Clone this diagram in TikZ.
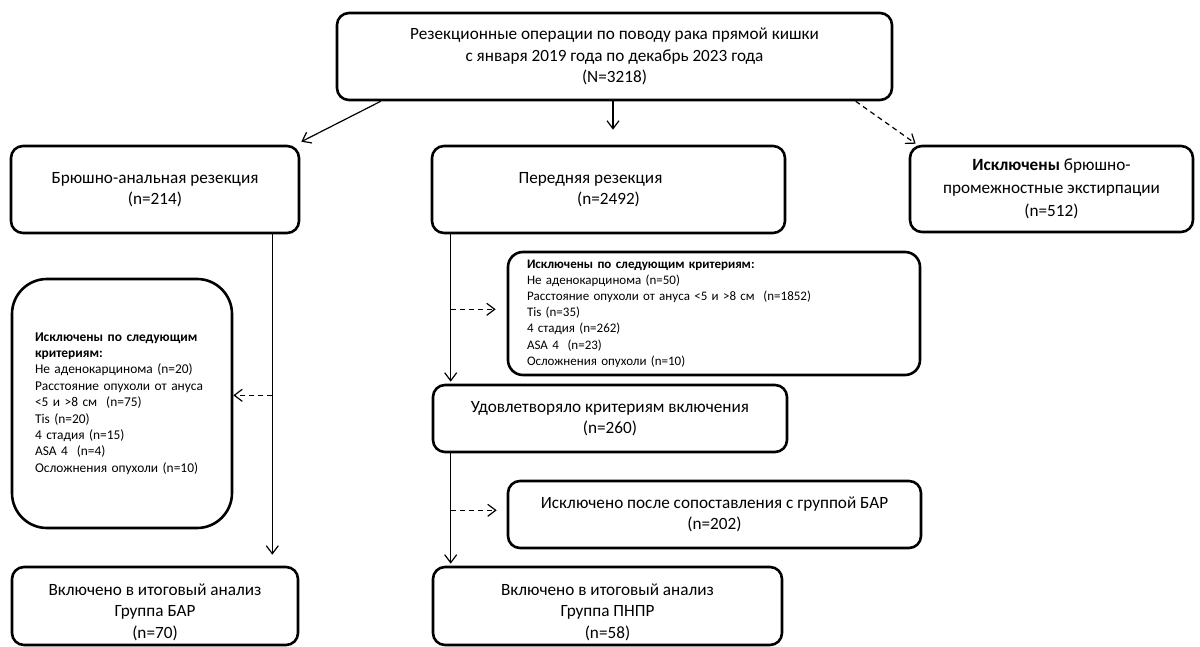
\documentclass[tikz,border=0pt]{standalone}
\usepackage{fontspec}
\setmainfont{Carlito}
\usetikzlibrary{arrows.meta,calc}
\newcommand\bigsz{\fontsize{17.2}{21.2}\selectfont}
\newcommand\smsz{\fontsize{13}{16.2}\selectfont}
\newcommand\smlsz{\fontsize{13.4}{16.4}\selectfont}
\begin{document}
\begin{tikzpicture}[x=1pt,y=1pt,
  box/.style={draw, line width=2.6pt, rounded corners=12pt, align=center, font=\bigsz, inner sep=0pt},
  conn/.style={line width=1.2pt, -{Straight Barb[length=8pt,width=12pt]}},
  dconn/.style={conn, dash pattern=on 5pt off 4pt}]
\useasboundingbox (0,0) rectangle (1200,-647);
% boxes
\node[box, minimum width=555pt, minimum height=87pt] (top) at (614.5,-56.5)
  {Резекционные операции по поводу рака прямой кишки\\с января 2019 года по декабрь 2023 года\\(N=3218)};
\node[box, minimum width=288pt, minimum height=87pt] (bar) at (155,-189.5)
  {Брюшно-анальная резекция\\(n=214)};
\node[box, minimum width=353pt, minimum height=87pt] (ar) at (608.5,-189.5)
  {Передняя резекция\hspace*{36pt}\\(n=2492)};
\node[box, minimum width=283pt, minimum height=86pt, font=\fontsize{17.2}{23}\selectfont] (ex) at (1051.5,-189)
  {\textbf{Исключены} брюшно-\\промежностные экстирпации\\(n=512)};
\node[box, rounded corners=35pt, minimum width=220pt, minimum height=249pt, align=left, font=\smlsz, text width=174pt, inner xsep=23pt] (exL) at (122,-403.5)
  {\textbf{Исключены по следующим}\\\textbf{критериям:}\\Не аденокарцинома (n=20)\\Расстояние опухоли от ануса\\<5 и >8 см\ \ (n=75)\\Tis (n=20)\\4 стадия (n=15)\\ASA 4\ \ (n=4)\\Осложнения опухоли (n=10)};
\node[box, rounded corners=15pt, minimum width=412pt, minimum height=123pt, align=left, font=\smsz, text width=374pt] (exM) at (714,-313.5)
  {\textbf{Исключены по следующим критериям:}\\Не аденокарцинома (n=50)\\Расстояние опухоли от ануса <5 и >8 см\ \ (n=1852)\\Tis (n=35)\\4 стадия (n=262)\\ASA 4\ \ (n=23)\\Осложнения опухоли (n=10)};
\node[box, minimum width=354pt, minimum height=67pt] (ud) at (610,-418.5)
  {Удовлетворяло критериям включения\\(n=260)};
\node[box, minimum width=413pt, minimum height=67pt] (exA) at (714.5,-514.5)
  {Исключено после сопоставления с группой БАР\\(n=202)};
\node[box, minimum width=286pt, minimum height=78pt] (fL) at (155,-606)
  {\rule{0pt}{24pt}Включено в итоговый анализ\\Группа БАР\\(n=70)};
\node[box, minimum width=349pt, minimum height=78pt] (fM) at (607.5,-606)
  {\rule{0pt}{24pt}Включено в итоговый анализ\\Группа ПНПР\\(n=58)};
% junction coordinates
\coordinate (jL) at ($([xshift=-28pt]bar.south east)+(0,-161)$);
\coordinate (jM1) at ($([xshift=20pt]ar.south west)+(0,-75)$);
\coordinate (jM2) at ($([xshift=19pt]ud.south west)+(0,-57)$);
% connectors
\draw[conn] ([xshift=45pt]top.south west) -- ([xshift=1pt,yshift=3pt]bar.north east);
\draw[conn, shorten >=15pt] ([xshift=-1.5pt]top.south) -- ([xshift=-1.5pt]top.south |- ar.north);
\draw[dconn] ([xshift=520pt]top.south west) -- ([xshift=7pt,yshift=1pt]ex.north west);
\draw[conn, shorten >=11pt] ([xshift=-28pt]bar.south east) -- ([xshift=-28pt]bar.south east |- fL.north);
\draw[dconn] (jL) -- (jL -| exL.east);
\draw[conn, shorten >=2pt] ([xshift=20pt]ar.south west) -- ([xshift=20pt]ar.south west |- ud.north);
\draw[dconn, shorten >=11pt] (jM1) -- (jM1 -| exM.west);
\draw[conn, shorten >=2pt] ([xshift=19pt]ud.south west) -- ([xshift=19pt]ud.south west |- fM.north);
\draw[dconn, shorten >=10pt] (jM2) -- (jM2 -| exA.west);
\end{tikzpicture}
\end{document}
